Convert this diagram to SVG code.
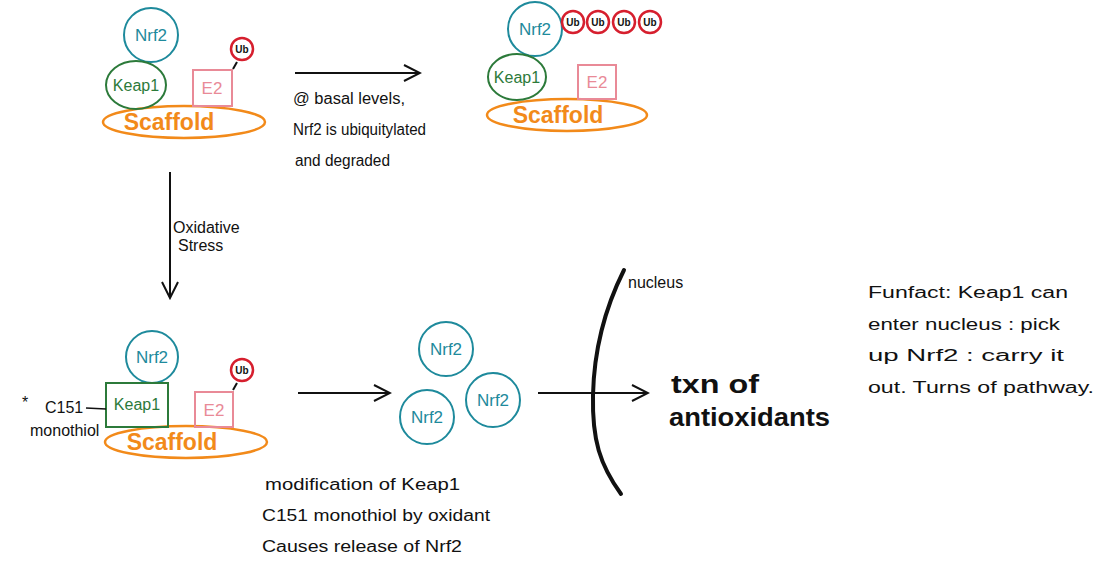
<svg xmlns="http://www.w3.org/2000/svg" width="1107" height="569" viewBox="0 0 1107 569">
<defs>
<style>
.nrf{fill:none;stroke:#1e8a9c;stroke-width:2}
.nrft{fill:#1e8a9c;font-family:"Liberation Sans",sans-serif;font-size:17px;text-anchor:middle}
.keap{fill:none;stroke:#2c7a3a;stroke-width:2}
.keapt{fill:#2c7a3a;font-family:"Liberation Sans",sans-serif;font-size:16px;text-anchor:middle}
.e2{fill:none;stroke:#e98a97;stroke-width:2}
.e2t{fill:#e98a97;font-family:"Liberation Sans",sans-serif;font-size:17px;text-anchor:middle}
.ub{fill:none;stroke:#d61f2e;stroke-width:2.5}
.ubt{fill:#111;font-family:"Liberation Sans",sans-serif;font-size:10px;font-weight:bold;text-anchor:middle}
.sc{fill:none;stroke:#f28a1a;stroke-width:2.5}
.sct{fill:#f28a1a;font-family:"Liberation Sans",sans-serif;font-size:23px;font-weight:bold;text-anchor:middle}
.note{fill:#111;font-family:"Liberation Sans",sans-serif;font-size:16px}
.conn{fill:none;stroke:#111;stroke-width:2}
</style>
<marker id="arr" viewBox="0 0 20 20" refX="18" refY="10" markerWidth="20" markerHeight="20" markerUnits="userSpaceOnUse" orient="auto">
<path d="M2,2 L18,10 L2,18" fill="none" stroke="#111" stroke-width="2"/>
</marker>
</defs>
<rect width="1107" height="569" fill="#fff"/>

<g id="complex-top-left">
<ellipse class="sc" cx="184" cy="122" rx="81" ry="16"/>
<text class="sct" x="169" y="130">Scaffold</text>
<circle class="nrf" cx="151" cy="35" r="27"/>
<text class="nrft" x="151" y="41">Nrf2</text>
<ellipse class="keap" cx="136" cy="85" rx="30" ry="24"/>
<text class="keapt" x="136" y="91">Keap1</text>
<rect class="e2" x="193" y="70" width="39" height="36"/>
<text class="e2t" x="212" y="94">E2</text>
<line x1="233" y1="69" x2="237" y2="62" stroke="#111" stroke-width="2"/>
<circle class="ub" cx="242" cy="49" r="11"/>
<text class="ubt" x="242" y="53">Ub</text>
</g>

<g id="complex-top-right">
<ellipse class="sc" cx="567" cy="115" rx="80" ry="16"/>
<text class="sct" x="558" y="123">Scaffold</text>
<circle class="nrf" cx="535" cy="29" r="27"/>
<text class="nrft" x="535" y="35">Nrf2</text>
<ellipse class="keap" cx="517" cy="77" rx="29" ry="23"/>
<text class="keapt" x="517" y="83">Keap1</text>
<rect class="e2" x="578" y="65" width="38" height="34"/>
<text class="e2t" x="597" y="88">E2</text>
<circle class="ub" cx="573" cy="22" r="11"/>
<text class="ubt" x="573" y="26">Ub</text>
<circle class="ub" cx="598" cy="22" r="11"/>
<text class="ubt" x="598" y="26">Ub</text>
<circle class="ub" cx="624" cy="22" r="11"/>
<text class="ubt" x="624" y="26">Ub</text>
<circle class="ub" cx="650" cy="22" r="11"/>
<text class="ubt" x="650" y="26">Ub</text>
</g>

<g id="complex-bottom-left">
<ellipse class="sc" cx="186" cy="442" rx="81" ry="16"/>
<text class="sct" x="172" y="450">Scaffold</text>
<circle class="nrf" cx="152" cy="357" r="26"/>
<text class="nrft" x="152" y="363">Nrf2</text>
<rect class="keap" x="106" y="383" width="62" height="44"/>
<text class="keapt" x="137" y="410">Keap1</text>
<rect class="e2" x="195" y="392" width="38" height="35"/>
<text class="e2t" x="214" y="416">E2</text>
<line x1="233" y1="390" x2="237" y2="383" stroke="#111" stroke-width="2"/>
<circle class="ub" cx="242" cy="370" r="11"/>
<text class="ubt" x="242" y="374">Ub</text>
<text class="note" x="22" y="408" font-size="18">*</text>
<text class="note" x="45" y="413" font-size="15">C151</text>
<line x1="86" y1="408" x2="106" y2="409" stroke="#111" stroke-width="1.5"/>
<text class="note" x="30" y="436" font-size="13">monothiol</text>
</g>

<g id="free-nrf2">
<circle class="nrf" cx="446" cy="349" r="27"/>
<text class="nrft" x="446" y="355">Nrf2</text>
<circle class="nrf" cx="493" cy="400" r="27"/>
<text class="nrft" x="493" y="406">Nrf2</text>
<circle class="nrf" cx="427" cy="417" r="27"/>
<text class="nrft" x="427" y="423">Nrf2</text>
</g>

<g id="nucleus">
<path d="M624,270 C604,310 594,350 593,395 C592,440 600,465 621,494" fill="none" stroke="#111" stroke-width="4" stroke-linecap="round"/>
<text class="note" x="628" y="288" font-size="13">nucleus</text>
<text x="671" y="393" font-family="Liberation Sans,sans-serif" font-size="26" font-weight="bold" fill="#111" textLength="88" lengthAdjust="spacingAndGlyphs">txn of</text>
<text x="669" y="426" font-family="Liberation Sans,sans-serif" font-size="26" font-weight="bold" fill="#111" textLength="161" lengthAdjust="spacingAndGlyphs">antioxidants</text>
</g>

<g id="connectors">
<line class="conn" x1="295" y1="73" x2="420" y2="73" marker-end="url(#arr)"/>
<line class="conn" x1="170" y1="172" x2="170" y2="298" marker-end="url(#arr)"/>
<line class="conn" x1="298" y1="393" x2="390" y2="393" marker-end="url(#arr)"/>
<line class="conn" x1="538" y1="393" x2="648" y2="393" marker-end="url(#arr)"/>
</g>

<g id="labels">
<text class="note" x="293" y="104" textLength="112" lengthAdjust="spacingAndGlyphs">@ basal levels,</text>
<text class="note" x="293" y="135" textLength="133" lengthAdjust="spacingAndGlyphs">Nrf2 is ubiquitylated</text>
<text class="note" x="295" y="166" textLength="95" lengthAdjust="spacingAndGlyphs">and degraded</text>
<text class="note" x="173" y="233" font-size="14">Oxidative</text>
<text class="note" x="178" y="251" font-size="14">Stress</text>
<text class="note" x="265" y="490" textLength="195" lengthAdjust="spacingAndGlyphs">modification of Keap1</text>
<text class="note" x="262" y="521" textLength="228" lengthAdjust="spacingAndGlyphs">C151 monothiol by oxidant</text>
<text class="note" x="262" y="552" textLength="200" lengthAdjust="spacingAndGlyphs">Causes release of Nrf2</text>
<text class="note" x="868" y="298" font-size="18" textLength="200" lengthAdjust="spacingAndGlyphs">Funfact: Keap1 can</text>
<text class="note" x="868" y="330" font-size="18" textLength="192" lengthAdjust="spacingAndGlyphs">enter nucleus : pick</text>
<text class="note" x="868" y="361" font-size="18" textLength="196" lengthAdjust="spacingAndGlyphs">up Nrf2 : carry it</text>
<text class="note" x="868" y="393" font-size="18" textLength="226" lengthAdjust="spacingAndGlyphs">out. Turns of pathway.</text>
</g>
</svg>
